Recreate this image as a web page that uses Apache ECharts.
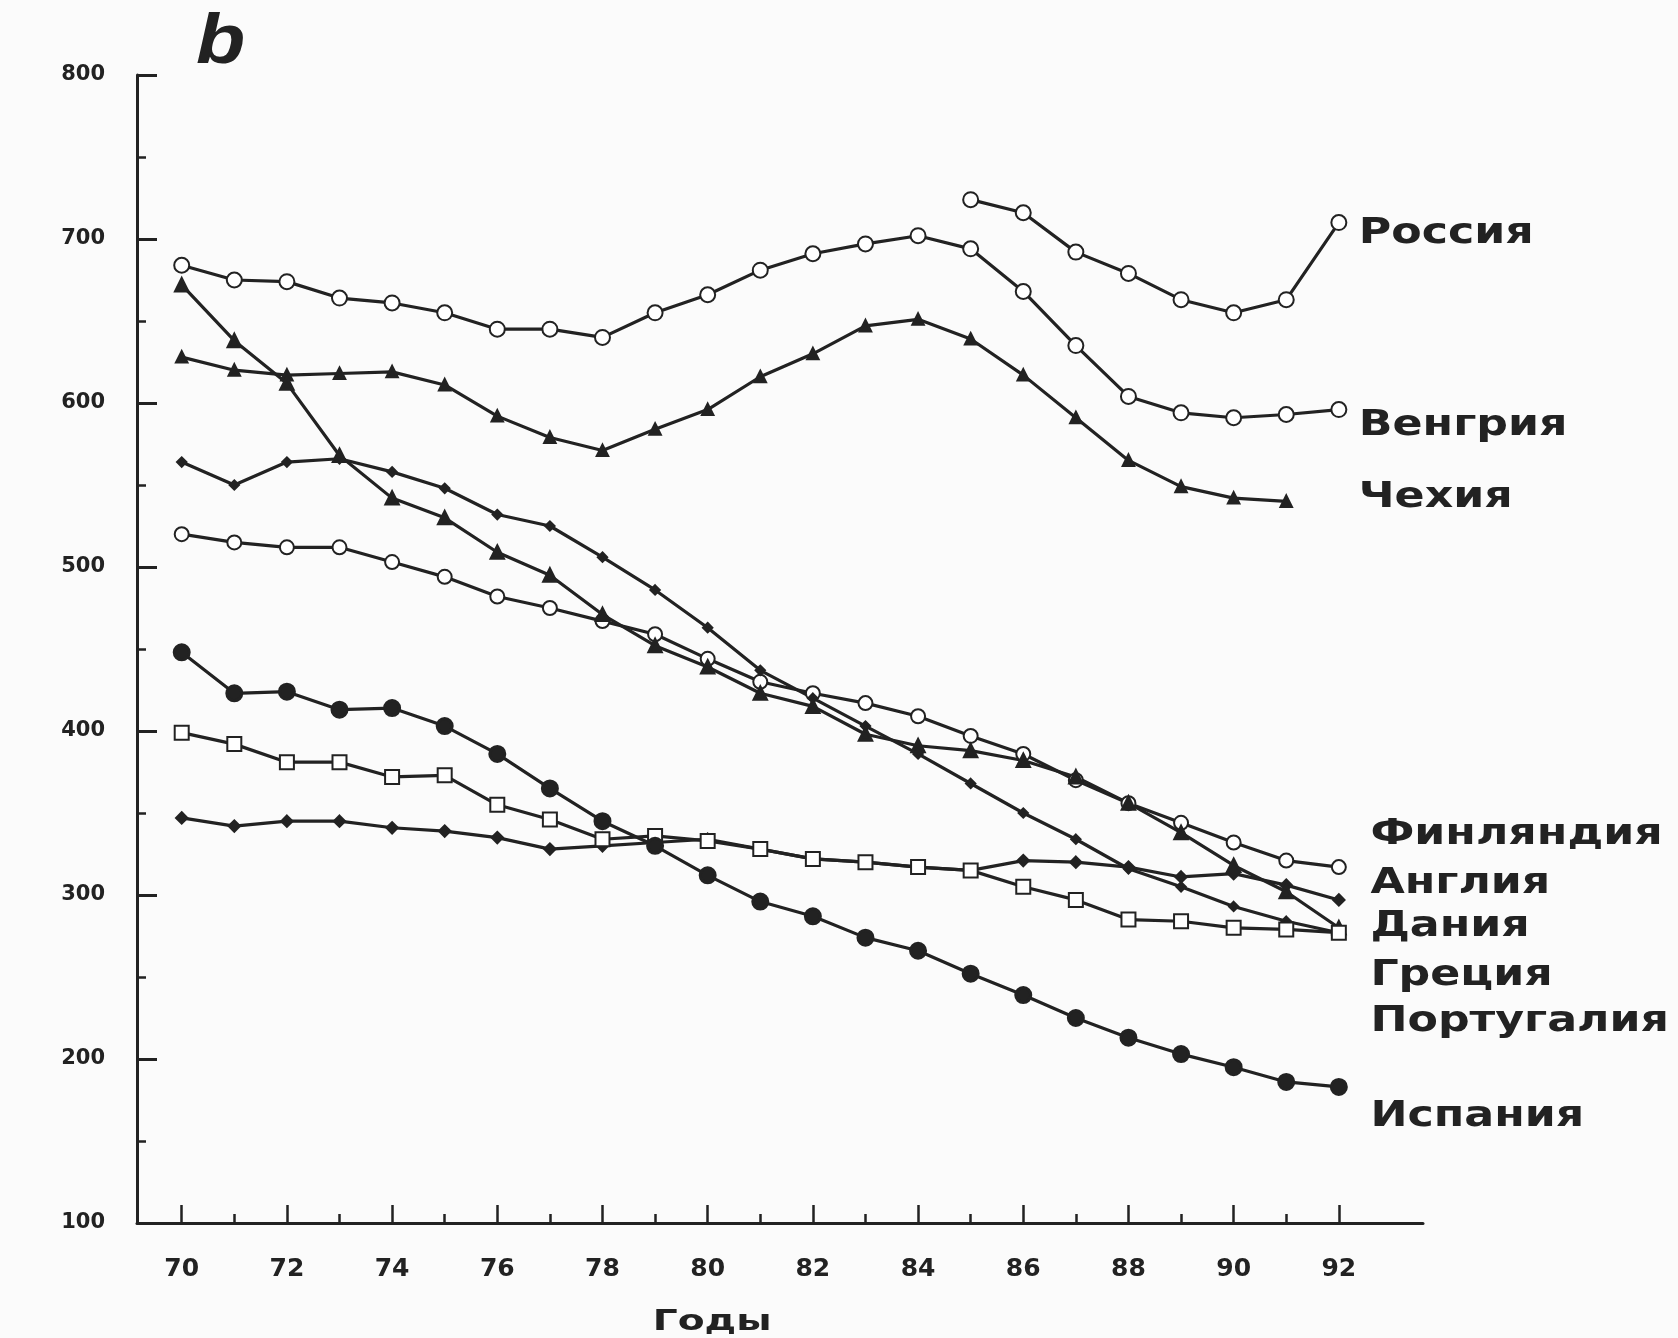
<!DOCTYPE html>
<html lang="ru">
<head>
<meta charset="utf-8">
<title>b</title>
<script src="https://cdn.jsdelivr.net/npm/echarts@6/dist/echarts.min.js"></script>
<style>
  html, body { margin: 0; padding: 0; background: #fbfbfb; }
  #chart { width: 1678px; height: 1338px; }
</style>
</head>
<body>
<div id="chart"></div>
<script>
// годы (1970–1992)
const years = [70, 71, 72, 73, 74, 75, 76, 77, 78, 79, 80, 81, 82, 83, 84, 85, 86, 87, 88, 89, 90, 91, 92]
const yearLabels = [70, 72, 74, 76, 78, 80, 82, 84, 86, 88, 90, 92]
const minorYears = [71, 73, 75, 77, 79, 81, 83, 85, 87, 89, 91]

// значения по странам
const russia = [null, null, null, null, null, null, null, null, null, null, null, null, null, null, null, 724, 716, 692, 679, 663, 655, 663, 710]
const hungary = [684, 675, 674, 664, 661, 655, 645, 645, 640, 655, 666, 681, 691, 697, 702, 694, 668, 635, 604, 594, 591, 593, 596]
const czech = [628, 620, 617, 618, 619, 611, 592, 579, 571, 584, 596, 616, 630, 647, 651, 639, 617, 591, 565, 549, 542, 540, null]
const finland = [520, 515, 512, 512, 503, 494, 482, 475, 467, 459, 444, 430, 423, 417, 409, 397, 386, 370, 356, 344, 332, 321, 317]
const england = [347, 342, 345, 345, 341, 339, 335, 328, 330, 332, 334, 328, 322, 320, 317, 315, 321, 320, 317, 311, 313, 306, 297]
const denmark = [672, 638, 612, 568, 542, 530, 509, 495, 471, 452, 439, 423, 415, 398, 391, 388, 382, 372, 356, 338, 318, 302, 280]
const greece = [564, 550, 564, 566, 558, 548, 532, 525, 506, 486, 463, 437, 420, 403, 386, 368, 350, 334, 316, 305, 293, 284, 277]
const portugal = [399, 392, 381, 381, 372, 373, 355, 346, 334, 336, 333, 328, 322, 320, 317, 315, 305, 297, 285, 284, 280, 279, 277]
const spain = [448, 423, 424, 413, 414, 403, 386, 365, 345, 330, 312, 296, 287, 274, 266, 252, 239, 225, 213, 203, 195, 186, 183]

// подписи справа и уровни, у которых они стоят
const countryNames = ['Россия', 'Венгрия', 'Чехия', 'Финляндия', 'Англия', 'Дания', 'Греция', 'Португалия', 'Испания']
const labelLevels = [703, 586, 542, 337, 307, 281, 251, 223, 165]

const INK = '#222'
const FONT = '"DejaVu Sans", "Liberation Sans", sans-serif'

const chart = echarts.init(document.getElementById('chart'))

const toPairs = arr => years.map((y, i) => [y, arr[i]]).filter(p => p[1] != null)

const makeSeries = (name, values, symbol, size) => ({
  name,
  type: 'line',
  data: toPairs(values),
  symbol,
  symbolSize: size,
  showAllSymbol: true,
  lineStyle: { color: INK, width: 3.2 },
  itemStyle: { color: INK, borderColor: INK, borderWidth: 3 },
  emphasis: { disabled: true },
  z: 3
})

const option = {
  backgroundColor: '#fbfbfb',
  animation: false,
  grid: { left: 137, right: 255, top: 75, bottom: 115 },
  xAxis: [
    {
      type: 'value',
      min: 69.15,
      max: 93.6,
      axisLine: { lineStyle: { color: INK, width: 3 } },
      axisTick: { customValues: yearLabels, inside: true, length: 18, lineStyle: { color: INK, width: 2.5 } },
      axisLabel: {
        customValues: yearLabels,
        margin: 34,
        color: INK,
        fontFamily: FONT,
        fontWeight: 'bold',
        fontSize: 25
      },
      splitLine: { show: false }
    },
    {
      type: 'value',
      position: 'bottom',
      min: 69.15,
      max: 93.6,
      axisLine: { show: false },
      axisTick: { customValues: minorYears, inside: true, length: 9, lineStyle: { color: INK, width: 2.5 } },
      axisLabel: { show: false },
      splitLine: { show: false }
    }
  ],
  yAxis: {
    type: 'value',
    min: 100,
    max: 800,
    interval: 100,
    axisLine: { show: true, lineStyle: { color: INK, width: 3 } },
    axisTick: { show: true, inside: true, length: 20, lineStyle: { color: INK, width: 3 } },
    minorTick: { show: true, splitNumber: 2, length: 9, lineStyle: { color: INK, width: 2.5 } },
    axisLabel: { margin: 32, color: INK, fontFamily: FONT, fontWeight: 'bold', fontSize: 21 },
    splitLine: { show: false }
  },
  series: [
    makeSeries('Россия', russia, 'emptyCircle', 15),
    makeSeries('Венгрия', hungary, 'emptyCircle', 15),
    makeSeries('Чехия', czech, 'triangle', 10),
    makeSeries('Финляндия', finland, 'emptyCircle', 14),
    makeSeries('Англия', england, 'diamond', 10),
    makeSeries('Дания', denmark, 'triangle', 12),
    makeSeries('Греция', greece, 'diamond', 8),
    makeSeries('Португалия', portugal, 'emptyRect', 14),
    makeSeries('Испания', spain, 'circle', 15)
  ]
}

chart.setOption(option)

// подписи стран, буква панели и название оси
const labelGraphics = countryNames.map((name, i) => {
  const [px, py] = chart.convertToPixel({ seriesIndex: 0 }, [i < 3 ? 92.38 : 92.6, labelLevels[i]])
  return {
    type: 'text',
    x: px,
    y: py,
    scaleX: 1.23,
    style: {
      text: name,
      fill: INK,
      font: 'bold 36px ' + FONT,
      align: 'left',
      verticalAlign: 'middle'
    }
  }
})

const [axisX, axisY] = chart.convertToPixel({ seriesIndex: 0 }, [80, 100])

chart.setOption({
  graphic: [
    ...labelGraphics,
    {
      type: 'text',
      x: 196,
      y: 44,
      scaleX: 1.15,
      style: { text: 'b', fill: INK, font: 'italic bold 70px "Liberation Sans", sans-serif', verticalAlign: 'middle' }
    },
    {
      type: 'text',
      x: axisX - 55,
      y: axisY + 99,
      scaleX: 1.35,
      style: { text: 'Годы', fill: INK, font: 'bold 29px ' + FONT, verticalAlign: 'middle' }
    }
  ]
})

window.addEventListener('resize', () => chart.resize())
</script>
</body>
</html>
